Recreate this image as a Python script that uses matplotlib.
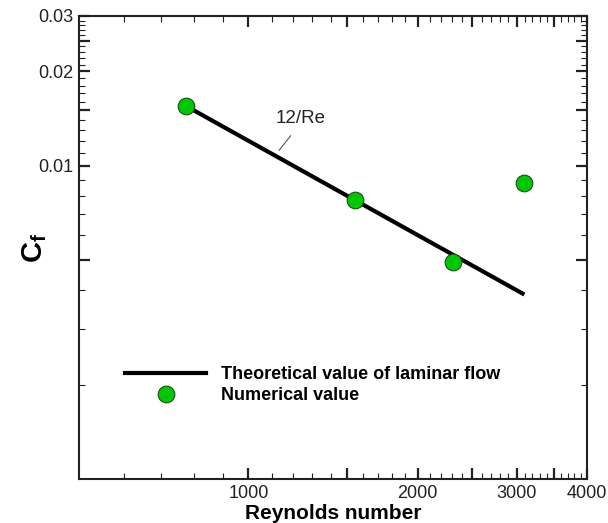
import numpy as np
import matplotlib
matplotlib.use("Agg")
import matplotlib.pyplot as plt
from matplotlib.lines import Line2D

plt.rcParams['font.family'] = ['Liberation Sans', 'DejaVu Sans']
plt.rcParams['mathtext.fontset'] = 'custom'
plt.rcParams['mathtext.rm'] = 'Liberation Sans'
plt.rcParams['mathtext.bf'] = 'Liberation Sans:bold'

# Data
re_numerical = [775, 1545, 2313, 3095]
cf_numerical = [0.0155, 0.00774, 0.00494, 0.0088]
re_theory = np.array([775, 3095])
cf_theory = 12.0 / re_theory
x_ticklabels = [1000, 2000, 3000, 4000]
y_ticklabels = [0.01, 0.02, 0.03]

fig = plt.figure(figsize=(6.08, 5.23), dpi=100)
W, H = 608, 523
ax = fig.add_axes([79 / W, 44 / H, 508 / W, 463 / H])
ax.set_xscale('log')
ax.set_yscale('log')
ax.set_xlim(500, 4000)
ax.set_ylim(0.001, 0.03)

ax.plot(re_theory, cf_theory, color='black', lw=3.0, solid_capstyle='butt', zorder=2)
ax.plot(re_numerical, cf_numerical, linestyle='none', marker='o', markersize=12,
        markerfacecolor='#00C800', markeredgecolor='#1a4d1a', markeredgewidth=0.8, zorder=3)

# Ticks
x_major = [1000, 1500, 2000, 2500, 3000, 3500, 4000]
x_minor = [v for v in range(600, 4000, 100) if v not in x_major]
y_major = [0.005, 0.01, 0.015, 0.02, 0.025, 0.03]
y_minor = [k / 1000 for k in range(2, 30) if k not in (5, 10, 15, 20, 25)]
ax.set_xticks(x_major)
ax.set_xticklabels([str(v) if v in x_ticklabels else '' for v in x_major])
ax.set_xticks(x_minor, minor=True)
ax.set_xticklabels([], minor=True)
ax.set_yticks(y_major)
ax.set_yticklabels([('%g' % v) if any(abs(v - t) < 1e-9 for t in y_ticklabels) else '' for v in y_major])
ax.set_yticks(y_minor, minor=True)
ax.set_yticklabels([], minor=True)

ax.tick_params(which='both', direction='in', top=True, right=True, colors='#222222')
ax.tick_params(which='major', length=8, width=1.6, labelsize=13, pad=4)
ax.tick_params(which='minor', length=4.5, width=0.8)
for s in ax.spines.values():
    s.set_linewidth(1.5)
    s.set_color('#222222')

ax.set_xlabel('Reynolds number', fontsize=15, fontweight='bold')
ax.xaxis.set_label_coords(0.5, (479 - 504) / 463)
ax.set_ylabel(r'$\mathbf{C}_{\mathbf{f}}$', fontsize=21)
ax.yaxis.set_label_coords((49 - 79) / 508, 0.5)

# annotation
ax.annotate('', xy=(1126, 0.0110), xytext=(1198, 0.01266),
            arrowprops=dict(arrowstyle='-', lw=0.8, color='#555555'))
ax.text(1238, 0.01414, '12/Re', fontsize=13.5, ha='center', va='center', color='#222222')

handles = [Line2D([], [], color='black', lw=3.0),
           Line2D([], [], linestyle='none', marker='o', markersize=12,
                  markerfacecolor='#00C800', markeredgecolor='#1a4d1a', markeredgewidth=0.8)]
ax.legend(handles, ['Theoretical value of laminar flow', 'Numerical value'],
          loc='upper left', bbox_to_anchor=(125 / W, 1 - 366 / H), bbox_transform=fig.transFigure,
          frameon=False, borderpad=0, borderaxespad=0, handlelength=4.5, handletextpad=0.8,
          labelspacing=0.22, prop={'weight': 'bold', 'size': 13})

fig.savefig('out.png', dpi=100)
